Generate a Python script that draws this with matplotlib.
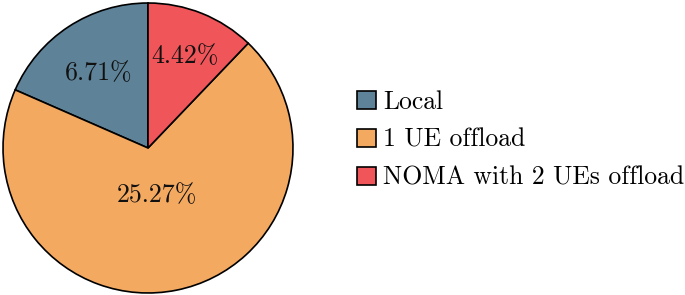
import matplotlib
matplotlib.use("Agg")
import matplotlib.pyplot as plt
import numpy as np

plt.rcParams['font.family'] = 'serif'
plt.rcParams['font.serif'] = ['cmr10']
plt.rcParams['mathtext.fontset'] = 'cm'
plt.rcParams['axes.unicode_minus'] = False

categories = ['Local', '1 UE offload', 'NOMA with 2 UEs offload']
values = [6.71, 25.27, 4.42]
colors = ['#5e8298', '#f4a961', '#ef5559']
label_dist = [0.62, 0.33, 0.68]

fig = plt.figure(figsize=(6.85, 2.95), dpi=100)
ax = fig.add_axes([1/685, 1/295, 294/685, 292/295])
total = sum(values)
wedges, texts, autotexts = ax.pie(
    values, colors=colors, startangle=90, counterclock=True,
    autopct=lambda p: f'{p*total/100:.2f}%',
    wedgeprops=dict(edgecolor='black', linewidth=1.2),
    textprops=dict(fontsize=18.6, color='#111111'))
for w, t, d in zip(wedges, autotexts, label_dist):
    ang = np.deg2rad((w.theta1 + w.theta2) / 2)
    t.set_position((d * np.cos(ang), d * np.sin(ang)))
ax.set_xlim(-1.007, 1.007)
ax.set_ylim(-1.007, 1.007)
ax.set_aspect('equal')
ax.axis('off')

leg = fig.legend(wedges, categories, loc='center left',
                 bbox_to_anchor=(334/685, 0.525), frameon=False,
                 fontsize=18.5, handlelength=0.75, handleheight=0.72,
                 handletextpad=0.27, labelspacing=0.55)
for h in leg.legend_handles:
    h.set_edgecolor('black')
    h.set_linewidth(1.2)

fig.savefig('out.png', dpi=100)
